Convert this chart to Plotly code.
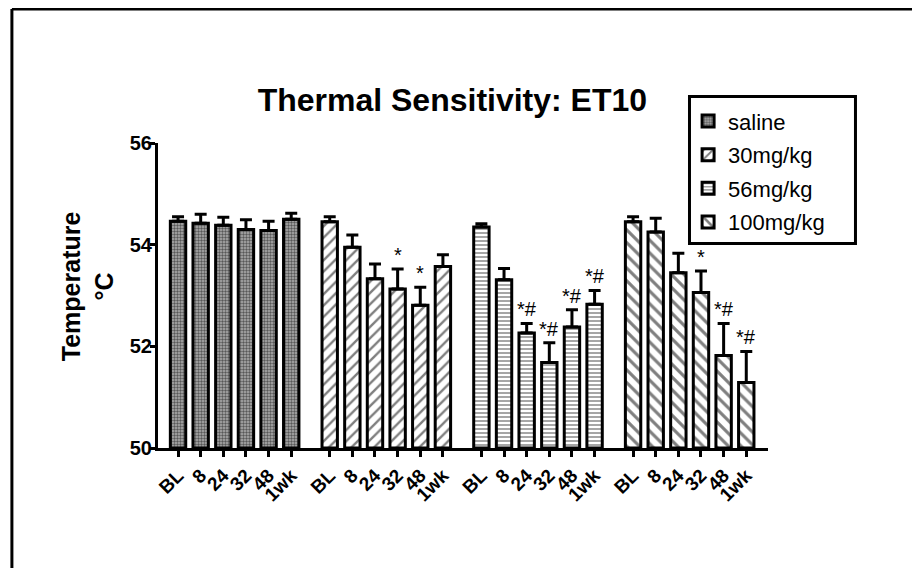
import plotly.graph_objects as go

timepoints = ["BL", "8", "24", "32", "48", "1wk"]
groups = ["saline", "30mg/kg", "56mg/kg", "100mg/kg"]
means = [
    [54.46, 54.42, 54.38, 54.30, 54.28, 54.50],
    [54.45, 53.95, 53.33, 53.13, 52.81, 53.57],
    [54.35, 53.31, 52.26, 51.68, 52.38, 52.83],
    [54.45, 54.25, 53.45, 53.06, 51.82, 51.29],
]
sems = [
    [0.09, 0.18, 0.16, 0.19, 0.18, 0.12],
    [0.10, 0.24, 0.29, 0.39, 0.35, 0.23],
    [0.06, 0.22, 0.19, 0.39, 0.34, 0.27],
    [0.10, 0.27, 0.38, 0.42, 0.63, 0.61],
]
sig = [
    ["", "", "", "", "", ""],
    ["", "", "", "*", "*", ""],
    ["", "", "*#", "*#", "*#", "*#"],
    ["", "", "", "*", "*#", "*#"],
]

patterns = [
    dict(shape=".", size=3, solidity=0.5, fgcolor="#000000", bgcolor="#b0b0b0"),
    dict(shape="/", size=8, solidity=0.3, fgcolor="#000000", bgcolor="#ffffff"),
    dict(shape="-", size=4, solidity=0.35, fgcolor="#000000", bgcolor="#ffffff"),
    dict(shape="\\", size=9, solidity=0.35, fgcolor="#000000", bgcolor="#ffffff"),
]

GROUP_STEP = 6.7
FONT = "Liberation Sans, Arial, sans-serif"

fig = go.Figure()
tickvals, ticktext = [], []
annotations = []
for g, name in enumerate(groups):
    xs = [g * GROUP_STEP + i for i in range(len(timepoints))]
    tickvals += xs
    ticktext += timepoints
    fig.add_trace(go.Bar(
        x=xs, y=[m - 50 for m in means[g]], base=50, name=name,
        width=0.68,
        marker=dict(color="white", line=dict(color="black", width=3), pattern=patterns[g]),
        error_y=dict(type="data", array=sems[g], arrayminus=[0] * 6, symmetric=False,
                     color="black", thickness=3, width=6),
        legendgroup=name,
    ))
    for i, s in enumerate(sig[g]):
        if s:
            annotations.append(dict(
                x=xs[i], y=means[g][i] + sems[g][i], xref="x", yref="y",
                text=s, showarrow=False, yanchor="bottom", yshift=1,
                font=dict(family=FONT, size=20, color="black"),
            ))

annotations.append(dict(
    x=-0.115, y=0.53, xref="paper", yref="paper", text="Temperature<br>°C",
    textangle=-90, showarrow=False, xanchor="center", yanchor="middle",
    font=dict(family=FONT, size=25, color="black", weight="bold"),
))

fig.update_layout(
    width=920, height=568,
    margin=dict(l=150, r=160, t=135, b=128),
    paper_bgcolor="white", plot_bgcolor="white",
    barmode="overlay",
    title=dict(text="Thermal Sensitivity: ET10", x=0.483, xanchor="center", y=0.838, yanchor="middle",
               font=dict(family=FONT, size=32, color="black", weight="bold")),
    showlegend=True,
    legend=dict(x=0.869, y=1.140, xanchor="left", yanchor="top",
                borderwidth=0, bgcolor="rgba(0,0,0,0)",
                font=dict(family=FONT, size=22, color="black"),
                tracegroupgap=2, traceorder="grouped"),
    xaxis=dict(range=[-0.885, 26.06], tickvals=tickvals, ticktext=ticktext, tickangle=-45,
               showline=True, linecolor="black", linewidth=3, showgrid=False, zeroline=False,
               ticks="outside", ticklen=6, tickwidth=3, tickcolor="black",
               tickfont=dict(family=FONT, size=19, color="black", weight="bold")),
    yaxis=dict(range=[50, 56], tickvals=[50, 52, 54, 56],
               showline=True, linecolor="black", linewidth=3, showgrid=False, zeroline=False,
               ticks="outside", ticklen=5, tickwidth=3, tickcolor="black", ticklabelstandoff=-6,
               tickfont=dict(family=FONT, size=20, color="black", weight="bold")),
    annotations=annotations,
    shapes=[
        dict(type="line", xref="paper", yref="paper", x0=-0.2395, x1=1.3, y0=1.4397, y1=1.4397,
             line=dict(color="black", width=3)),
        dict(type="line", xref="paper", yref="paper", x0=-0.2395, x1=-0.2395, y0=1.4397, y1=-0.45,
             line=dict(color="black", width=3)),
        dict(type="rect", xref="paper", yref="paper", x0=0.8713, x1=1.1434, y0=0.6705, y1=1.1525,
             line=dict(color="black", width=3), fillcolor="rgba(0,0,0,0)"),
    ],
)

fig.write_html("out.html")
